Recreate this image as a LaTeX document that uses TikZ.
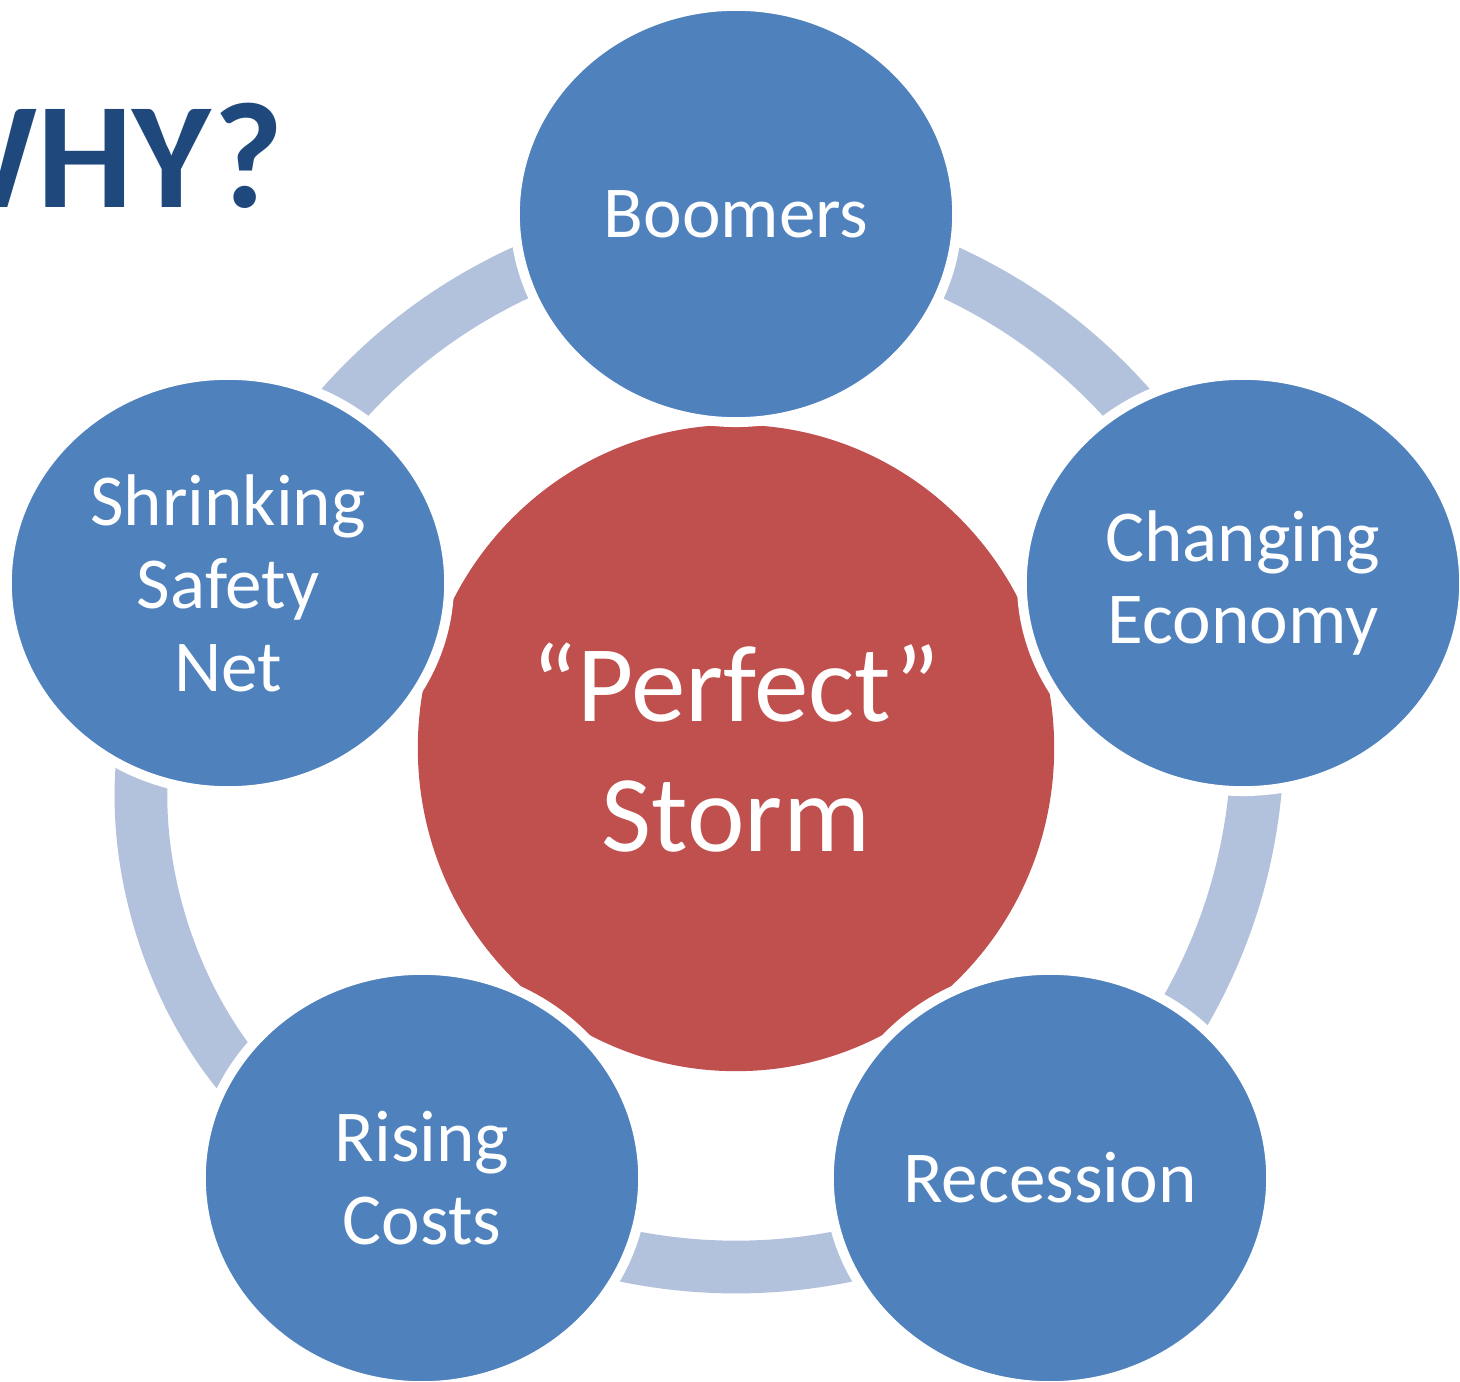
\documentclass[tikz,border=0pt]{standalone}
\usepackage{fontspec}
\setmainfont{Carlito}
\usepackage{xcolor}
\usepackage{tikz}
\usetikzlibrary{shapes.geometric}
\definecolor{bub}{HTML}{4F81BD}
\definecolor{storm}{HTML}{C0504D}
\definecolor{ringc}{HTML}{B3C2DC}
\definecolor{head}{HTML}{1F497D}
\tikzset{
  cyc/.style={draw=ringc, line width=15pt},
  factor/.style={ellipse, fill=bub, draw=white, line width=2.8pt, inner sep=0pt,
    minimum width=4.42cm, minimum height=4.16cm, text=white, align=center,
    font=\fontsize{20.8}{23.6}\selectfont},
  core/.style={ellipse, fill=storm, inner sep=0pt, minimum width=6.36cm,
    minimum height=6.46cm, text=white, align=center,
    font=\fontsize{31}{35}\selectfont},
  hdr/.style={text=head, inner sep=0pt, font=\fontsize{43}{50}\selectfont\bfseries}
}

\begin{document}
\begin{tikzpicture}[x=0.01cm, y=0.01cm]
  \useasboundingbox (0,0) rectangle (1460,-1382);
  \clip (0,0) rectangle (1460,-1382);

  % centres of the five causes (pentagon round the storm)
  \coordinate (B) at (736,-214);
  \coordinate (C) at (1243,-583);
  \coordinate (R) at (1050,-1178);
  \coordinate (K) at (422,-1178);
  \coordinate (S) at (228,-583);

  % the cycle ring
  \draw[cyc] (B) to[bend left=29] (C);
  \draw[cyc] (C) to[bend left=29] (R);
  \draw[cyc] (R) to[bend left=29] (K);
  \draw[cyc] (K) to[bend left=68] (S);
  \draw[cyc] (S) to[bend left=29] (B);

  \node[core] (storm) at (736,-748) {\raisebox{2pt}{“Perfect”}\\Storm};

  \node[factor] (boomers) at (B) {Boomers};
  \node[factor] (changing) at (C) {Changing\\Economy};
  \node[factor] (recession) at (R) {Recession};
  \node[factor] (rising) at (K) {Rising\\Costs};
  \node[factor] (shrinking) at (S) {Shrinking\\Safety\\Net};

  \node[hdr, anchor=base east] (why) at (284,-208) {WHY?};
\end{tikzpicture}
\end{document}
